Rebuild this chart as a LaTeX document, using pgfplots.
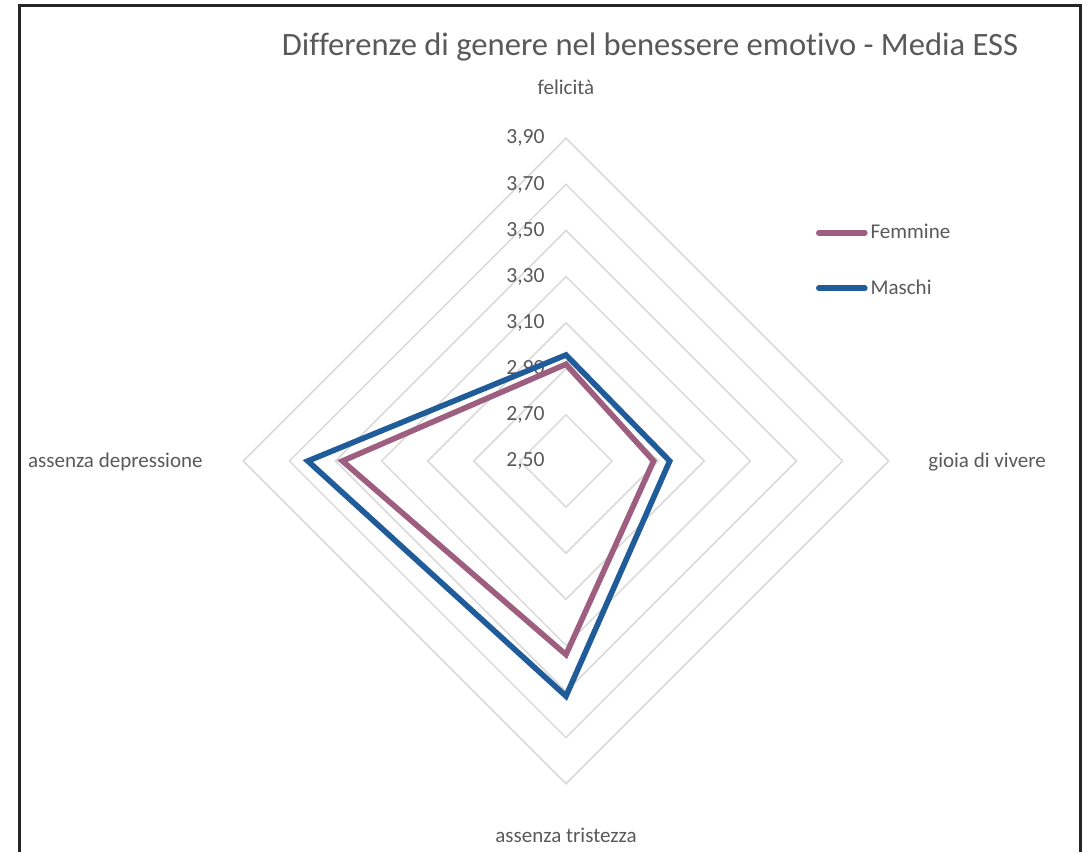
\documentclass[border=0pt]{standalone}
\usepackage{fontspec}
\setmainfont{Carlito}[Ligatures=NoCommon]
\usepackage{pgfplots}
\pgfplotsset{compat=1.18}
\usepackage{pgfplotstable}
\definecolor{fem}{HTML}{9E5E7F}
\definecolor{mas}{HTML}{1F5C99}
\definecolor{gridc}{HTML}{D9D9D9}
\definecolor{txt}{HTML}{595959}
\definecolor{frame}{HTML}{262626}

% ang: direction of the category axis
\pgfplotstableread{
ang fem mas
90  2.92 2.96
0   2.88 2.95
270 3.34 3.52
180 3.47 3.62
90  2.92 2.96
0   2.88 2.95
}\data

\begin{document}
\begin{tikzpicture}
\begin{axis}[
  scale only axis, width=543pt, height=426pt,
  xmin=-2.4555, xmax=2.2560, ymin=-1.6963, ymax=2.0,
  hide axis, clip=false,
  legend style={at={(axis cs:1.083,1.043)}, anchor=north west, draw=none, fill=none,
    font=\fontsize{10.5}{12}\selectfont\color{txt}, row sep=16pt, inner sep=0pt,
    nodes={inner sep=1.5pt}},
  legend cell align=left,
  legend image code/.code={\draw[#1, line cap=round] (0pt,0pt) -- (23pt,0pt);},
]
\path (rel axis cs:0,0) rectangle (rel axis cs:1,1);
% frame
\draw[frame, line width=1.5pt] (axis cs:-2.373,-1.6963) -- (axis cs:-2.373,1.978) -- (axis cs:2.230,1.978) -- (axis cs:2.230,-1.6963);
% rings
\addplot[gridc, line width=0.75pt, forget plot] coordinates {(0,0.2) (0.2,0) (0,-0.2) (-0.2,0) (0,0.2) (0.2,0)};
\addplot[gridc, line width=0.75pt, forget plot] coordinates {(0,0.4) (0.4,0) (0,-0.4) (-0.4,0) (0,0.4) (0.4,0)};
\addplot[gridc, line width=0.75pt, forget plot] coordinates {(0,0.6) (0.6,0) (0,-0.6) (-0.6,0) (0,0.6) (0.6,0)};
\addplot[gridc, line width=0.75pt, forget plot] coordinates {(0,0.8) (0.8,0) (0,-0.8) (-0.8,0) (0,0.8) (0.8,0)};
\addplot[gridc, line width=0.75pt, forget plot] coordinates {(0,1.0) (1.0,0) (0,-1.0) (-1.0,0) (0,1.0) (1.0,0)};
\addplot[gridc, line width=0.75pt, forget plot] coordinates {(0,1.2) (1.2,0) (0,-1.2) (-1.2,0) (0,1.2) (1.2,0)};
\addplot[gridc, line width=0.75pt, forget plot] coordinates {(0,1.4) (1.4,0) (0,-1.4) (-1.4,0) (0,1.4) (1.4,0)};
% radial tick labels
\begin{scope}[every node/.style={anchor=east, inner sep=0pt, font=\fontsize{10.8}{12}\selectfont, text=txt}]
\node at (axis cs:-0.0911,0.0) {2,50};
\node at (axis cs:-0.0911,0.2) {2,70};
\node at (axis cs:-0.0911,0.4) {2,90};
\node at (axis cs:-0.0911,0.6) {3,10};
\node at (axis cs:-0.0911,0.8) {3,30};
\node at (axis cs:-0.0911,1.0) {3,50};
\node at (axis cs:-0.0911,1.2) {3,70};
\node at (axis cs:-0.0911,1.4) {3,90};
\end{scope}
% series
\addplot[fem, line width=2.8pt, miter limit=4] table[
  x expr={cos(\thisrow{ang})*(\thisrow{fem}-2.5)},
  y expr={sin(\thisrow{ang})*(\thisrow{fem}-2.5)}] {\data};
\addlegendentry{Femmine}
\addplot[mas, line width=2.8pt, miter limit=4] table[
  x expr={cos(\thisrow{ang})*(\thisrow{mas}-2.5)},
  y expr={sin(\thisrow{ang})*(\thisrow{mas}-2.5)}] {\data};
\addlegendentry{Maschi}
% category labels
\begin{scope}[every node/.style={inner sep=0pt, font=\fontsize{10.5}{12}\selectfont, text=txt}]
\node at (axis cs:0,1.6226) {felicità};
\node[anchor=west] at (axis cs:1.5705,-0.003) {gioia di vivere};
\node at (axis cs:0,-1.6226) {assenza tristezza};
\node[anchor=east] at (axis cs:-1.5748,-0.003) {assenza depressione};
\end{scope}
% title
\node[font=\fontsize{16.3}{19}\selectfont, text=txt] at (axis cs:0.3644,1.796) {Differenze di genere nel benessere emotivo - Media ESS};
\end{axis}
\end{tikzpicture}
\end{document}
